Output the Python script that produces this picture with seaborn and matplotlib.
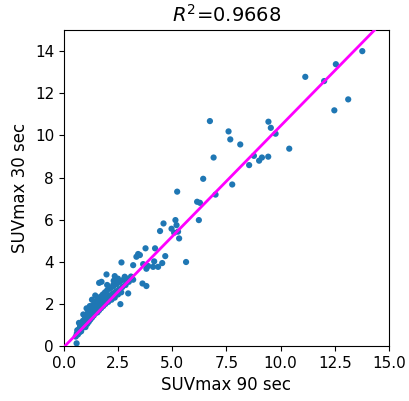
import numpy as np
import pandas as pd
import matplotlib
matplotlib.use('Agg')
import matplotlib.pyplot as plt
import seaborn as sns

# SUVmax readings (90 sec vs 30 sec)
suv_90 = [13.77, 12.55, 11.14, 12.01, 13.12, 12.48,
          6.74, 7.60, 7.68, 8.14, 9.44, 9.55, 9.77, 10.40,
          6.91, 8.77, 9.14, 9.43, 9.01, 8.55, 6.43,
          5.23, 7.77, 7.00, 6.15, 6.28, 6.23, 5.15, 4.60, 5.20, 4.44, 4.97, 5.27, 5.09, 5.32,
          3.77, 4.21, 3.51, 3.35, 4.68, 5.64, 4.17, 4.54, 3.66, 4.12, 4.35, 3.81, 3.89,
          3.43, 2.66, 3.20, 1.97, 2.35, 2.81, 3.63, 3.81, 2.97, 2.28, 1.74, 1.63, 2.61, 1.05, 0.59,
          0.55, 0.60, 0.62, 0.65, 0.70, 0.72, 0.75, 0.80, 0.82, 0.85, 0.88, 0.90, 0.95, 0.98,
          1.00, 1.02, 1.05, 1.08, 1.10, 1.12, 1.15, 1.18, 1.20, 1.22, 1.25, 1.28, 1.30, 1.33,
          1.35, 1.38, 1.40, 1.43, 1.45, 1.50, 1.52, 1.55, 1.58, 1.60, 1.63, 1.65, 1.70, 1.72,
          1.75, 1.80, 1.82, 1.85, 1.90, 1.92, 1.95, 2.00, 2.05, 2.10, 2.15, 2.20, 2.25, 2.30,
          2.35, 2.40, 2.45, 2.50, 2.55, 2.60, 2.65, 2.70, 2.75, 2.85, 2.90, 3.00, 3.10, 3.20,
          0.90, 1.20, 1.30, 2.00, 2.30, 2.50, 1.45, 0.70]
suv_30 = [14.00, 13.38, 12.78, 12.58, 11.71, 11.19,
          10.68, 10.19, 9.81, 9.57, 10.65, 10.36, 10.08, 9.37,
          8.95, 9.03, 8.95, 8.99, 8.80, 8.59, 7.94,
          7.33, 7.67, 7.19, 6.85, 6.80, 5.98, 5.98, 5.82, 5.74, 5.46, 5.57, 5.43, 5.38, 5.11,
          4.64, 4.64, 4.32, 4.24, 4.27, 3.99, 4.02, 3.94, 3.89, 3.76, 3.76, 3.67, 3.80,
          4.37, 3.97, 3.84, 3.40, 3.32, 3.29, 2.97, 2.85, 2.50, 2.90, 3.05, 3.00, 1.99, 1.79, 0.13,
          0.45, 0.60, 0.75, 0.55, 0.80, 0.65, 0.95, 0.70, 1.05, 0.85, 1.20, 0.95, 1.10, 1.35,
          0.90, 1.20, 1.50, 1.05, 1.30, 1.60, 1.15, 1.40, 1.75, 1.25, 1.50, 1.85, 1.35, 1.60,
          1.95, 1.45, 1.70, 2.05, 1.55, 1.80, 2.15, 1.60, 1.90, 2.25, 1.70, 2.00, 2.35, 1.80,
          2.10, 2.45, 1.90, 2.20, 2.55, 2.00, 2.30, 2.65, 2.10, 2.40, 2.75, 2.20, 2.50, 2.85,
          2.30, 2.60, 2.95, 2.45, 2.70, 3.05, 2.55, 2.80, 3.15, 2.90, 3.20, 3.05, 3.30, 3.15,
          1.50, 1.90, 2.20, 2.90, 3.10, 3.20, 2.40, 1.10]

r2_label = 0.9668
# regression line as drawn in the reference
fit_slope = 1.05
fit_intercept = -0.05

df = pd.DataFrame({'x': suv_90, 'y': suv_30})

fit_x = np.array([0, 15])
fit_df = pd.DataFrame({'x': fit_x, 'y': fit_slope * fit_x + fit_intercept})

fig = plt.figure(figsize=(4.09, 4.01), dpi=100)
ax = fig.add_axes([0.156, 0.137, 0.795, 0.788])

sns.scatterplot(data=df, x='x', y='y', ax=ax, color='#1f77b4', s=20,
                edgecolor='none', zorder=2)
sns.lineplot(data=fit_df, x='x', y='y', ax=ax, color='magenta', lw=2, zorder=3)

ax.set_xlim(0, 15)
ax.set_ylim(0, 15)
ax.set_xticks(np.arange(0, 15.1, 2.5))
ax.set_yticks(np.arange(0, 15, 2))
ax.tick_params(labelsize=11)
ax.set_xlabel('SUVmax 90 sec', fontsize=12)
ax.set_ylabel('SUVmax 30 sec', fontsize=12)
ax.set_title(r'$R^2$=' + str(r2_label), fontsize=14)

fig.savefig('out.png', dpi=100)
